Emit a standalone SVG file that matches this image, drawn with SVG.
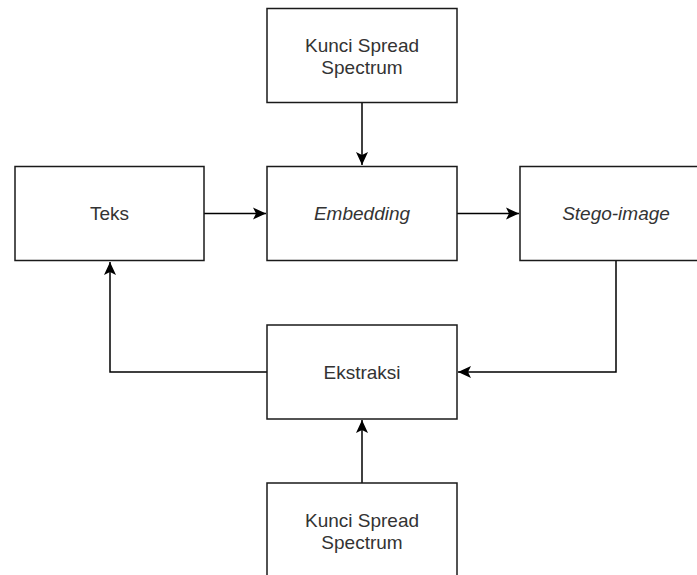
<svg xmlns="http://www.w3.org/2000/svg" width="697" height="575" viewBox="0 0 697 575">
<style>
.box{fill:#fff;stroke:#1a1a1a;stroke-width:1.5}
.lbl{font-family:"Liberation Sans",Arial,sans-serif;font-size:19px;fill:#333;text-anchor:middle}
.it{font-style:italic}
.edge{fill:none;stroke:#000;stroke-width:1.5}
</style>
<defs>
<marker id="arr" markerUnits="userSpaceOnUse" markerWidth="14" markerHeight="13" viewBox="0 0 14 13" refX="13" refY="6.5" orient="auto">
<path d="M0,0.5 L13,6.5 L0,12.5 L3,6.5 Z" fill="#000"/>
</marker>
</defs>
<rect width="697" height="575" fill="#fff"/>
<g id="connectors">
<path class="edge" d="M362,103 L362,165" marker-end="url(#arr)"/>
<path class="edge" d="M204,213.5 L266,213.5" marker-end="url(#arr)"/>
<path class="edge" d="M457,213.5 L519,213.5" marker-end="url(#arr)"/>
<path class="edge" d="M616,261 L616,372 L458,372" marker-end="url(#arr)"/>
<path class="edge" d="M267,372 L110,372 L110,262" marker-end="url(#arr)"/>
<path class="edge" d="M362,483 L362,420" marker-end="url(#arr)"/>
</g>
<g id="kunci-top">
<rect class="box" x="267" y="8.5" width="190" height="94"/>
<text class="lbl" x="362" y="52">Kunci Spread</text>
<text class="lbl" x="362" y="73.5">Spectrum</text>
</g>
<g id="teks">
<rect class="box" x="15" y="166.5" width="189" height="94"/>
<text class="lbl" x="109.5" y="220">Teks</text>
</g>
<g id="embedding">
<rect class="box" x="267" y="166.5" width="190" height="94"/>
<text class="lbl it" x="362" y="220">Embedding</text>
</g>
<g id="stego">
<rect class="box" x="520" y="166.5" width="192" height="94"/>
<text class="lbl it" x="616" y="220">Stego-image</text>
</g>
<g id="ekstraksi">
<rect class="box" x="267" y="325" width="190" height="94"/>
<text class="lbl" x="362" y="378.5">Ekstraksi</text>
</g>
<g id="kunci-bottom">
<rect class="box" x="267" y="483" width="190" height="94"/>
<text class="lbl" x="362" y="527">Kunci Spread</text>
<text class="lbl" x="362" y="548.5">Spectrum</text>
</g>
</svg>
